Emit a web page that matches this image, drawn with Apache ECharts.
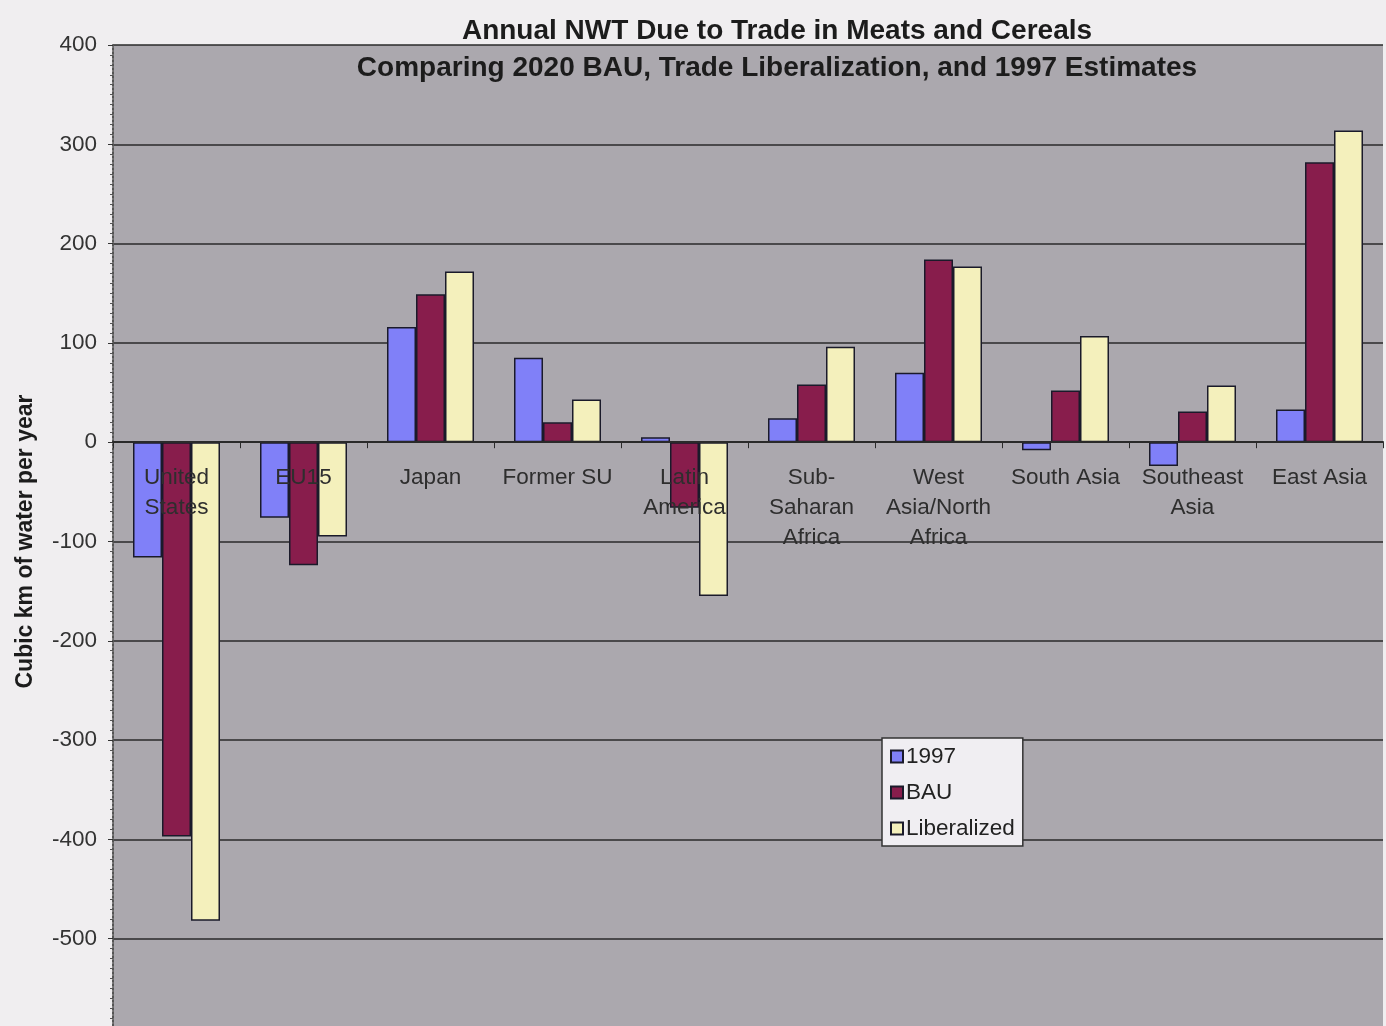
<!DOCTYPE html>
<html>
<head>
<meta charset="utf-8">
<script src="https://cdn.jsdelivr.net/npm/echarts@6/dist/echarts.min.js"></script>
<style>
html, body { margin: 0; padding: 0; background: #f0eef0; }
#container { width: 1386px; height: 1026px; }
</style>
</head>
<body>
<div id="container"></div>
<script>
var regions = ['United\nStates', 'EU15', 'Japan', 'Former SU', 'Latin\nAmerica',
    'Sub-\nSaharan\nAfrica', 'West\nAsia/North\nAfrica', 'South Asia', 'Southeast\nAsia', 'East Asia'];
var est1997 = [-116, -76, 116, 85, 5, 24, 70, -8, -24, 33];
var bau = [-397, -124, 149, 20, -66, 58, 184, 52, 31, 282];
var liberalized = [-482, -95, 172, 43, -155, 96, 177, 107, 57, 314];

var dom = document.getElementById('container');
var myChart = echarts.init(dom, null, { renderer: 'canvas' });

// plot spans -600..400, the bottom part runs off the page like in the original
var gridTop = 45, gridHeight = 993;
var zeroOffset = -gridHeight * 600 / 1000;

function barSeries(name, data, color) {
    return {
        name: name,
        type: 'bar',
        data: data,
        barWidth: 29,
        barGap: '0%',
        itemStyle: { color: color, borderColor: '#1a1a2a', borderWidth: 1.5 }
    };
}

myChart.setOption({
    backgroundColor: '#f0eef0',
    animation: false,
    title: [
        {
            text: 'Annual NWT Due to Trade in Meats and Cereals',
            left: 772, top: 12, textAlign: 'center',
            textStyle: { fontFamily: 'Liberation Sans', fontSize: 28, fontWeight: 'bold', color: '#1c1c1c' }
        },
        {
            text: 'Comparing 2020 BAU, Trade Liberalization, and 1997 Estimates',
            left: 772, top: 49, textAlign: 'center',
            textStyle: { fontFamily: 'Liberation Sans', fontSize: 28, fontWeight: 'bold', color: '#1c1c1c' }
        }
    ],
    legend: {
        orient: 'vertical',
        left: 882, top: 738,
        padding: [7, 8, 6, 8],
        itemWidth: 12, itemHeight: 12,
        itemGap: 13,
        backgroundColor: '#f0eef2',
        borderColor: '#333',
        borderWidth: 1.5,
        borderRadius: 0,
        icon: 'rect',
        textStyle: { fontFamily: 'Liberation Sans', fontSize: 22.5, color: '#222', padding: [0, 0, 0, -2] },
        data: ['1997', 'BAU', 'Liberalized']
    },
    grid: {
        left: 113, right: 3, top: gridTop, height: gridHeight,
        outerBoundsMode: 'none',
        backgroundColor: '#aba8ae', show: true, borderWidth: 0
    },
    xAxis: {
        type: 'category',
        data: regions,
        position: 'bottom',
        offset: zeroOffset,
        z: 5,
        axisLine: { onZero: false, lineStyle: { color: '#2a2a2a', width: 2 } },
        axisTick: { show: true, length: 6, lineStyle: { color: '#2a2a2a' } },
        axisLabel: {
            fontFamily: 'Liberation Sans', fontSize: 22.5, color: '#2e2e2e',
            lineHeight: 30, margin: 21, interval: 0
        }
    },
    yAxis: {
        type: 'value',
        min: -600, max: 400, interval: 100,
        name: 'Cubic km of water per year',
        nameLocation: 'middle',
        nameGap: 76,
        nameTextStyle: { fontFamily: 'Liberation Sans', fontSize: 23, fontWeight: 'bold', color: '#1c1c1c' },
        axisLine: { show: true, lineStyle: { color: '#555', width: 2, type: 'dotted' } },
        axisTick: { show: true, length: 5, lineStyle: { color: '#333' } },
        minorTick: { show: true, splitNumber: 10, length: 3, lineStyle: { color: '#555' } },
        axisLabel: { fontFamily: 'Liberation Sans', fontSize: 22.5, color: '#333', margin: 16 },
        splitLine: { show: true, lineStyle: { color: '#2a2a2a', width: 1.5 } }
    },
    series: [
        barSeries('1997', est1997, '#8080f8'),
        barSeries('BAU', bau, '#881d4c'),
        barSeries('Liberalized', liberalized, '#f4f0bc')
    ]
});

window.addEventListener('resize', function () {
    myChart.resize();
});
</script>
</body>
</html>
